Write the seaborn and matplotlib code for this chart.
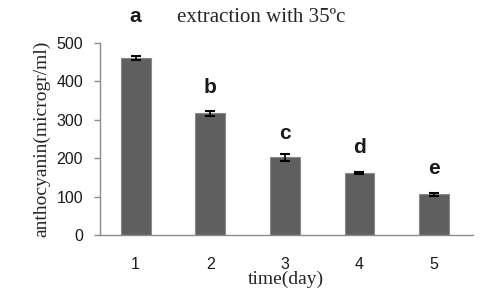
"""Anthocyanin extraction at 35 C: bar chart with error bars and letter groups."""

import matplotlib

matplotlib.use("Agg")
import matplotlib.pyplot as plt
import pandas as pd
import seaborn as sns

days = ["1", "2", "3", "4", "5"]
anthocyanin = [460, 316, 202, 162, 106]
errors = [5, 7, 9, 2, 3]
letters = ["a", "b", "c", "d", "e"]
letter_y = [568, 383, 263, 227, 173]

df = pd.DataFrame({"day": days, "value": anthocyanin})

sns.set_style("white")
plt.rcParams["font.family"] = ["Liberation Sans", "DejaVu Sans"]

fig = plt.figure(figsize=(4.8, 2.94), dpi=100)
ax = fig.add_axes([0.208, 0.2, 0.777, 0.655])

sns.barplot(data=df, x="day", y="value", ax=ax, color="#5f5f5f", width=0.4,
            edgecolor="#8a8a8a", linewidth=0.8, saturation=1)
ax.errorbar(range(len(days)), anthocyanin, yerr=errors, fmt="none",
            ecolor="black", elinewidth=1.2, capsize=3.5, capthick=1.5)

for i, (lab, y) in enumerate(zip(letters, letter_y)):
    ax.text(i, y, lab, ha="center", va="center", fontsize=15,
            fontweight="bold", color="#1a1a1a", clip_on=False)

ax.set_xlim(-0.48, 4.52)
ax.set_ylim(0, 500)
ax.set_yticks([0, 100, 200, 300, 400, 500])
ax.tick_params(axis="y", left=True, direction="out", length=4, width=1,
               color="#8c8c8c", labelsize=11.5, labelcolor="#1a1a1a", pad=8)
ax.tick_params(axis="x", bottom=False, labelsize=11.5, labelcolor="#1a1a1a",
               pad=12)

for side in ("top", "right"):
    ax.spines[side].set_visible(False)
for side in ("left", "bottom"):
    ax.spines[side].set_color("#8c8c8c")
    ax.spines[side].set_linewidth(1)

serif = ["Liberation Serif", "DejaVu Serif"]
ax.set_xlabel("time(day)", family=serif, fontsize=14, labelpad=-1)
ax.set_ylabel("anthocyanin(microgr/ml)", family=serif, fontsize=14, labelpad=4)
fig.text(0.545, 0.94, "extraction with 35ºc", family=serif, fontsize=15,
         ha="center", va="center")

fig.savefig("out.png", dpi=100)
plt.close(fig)
